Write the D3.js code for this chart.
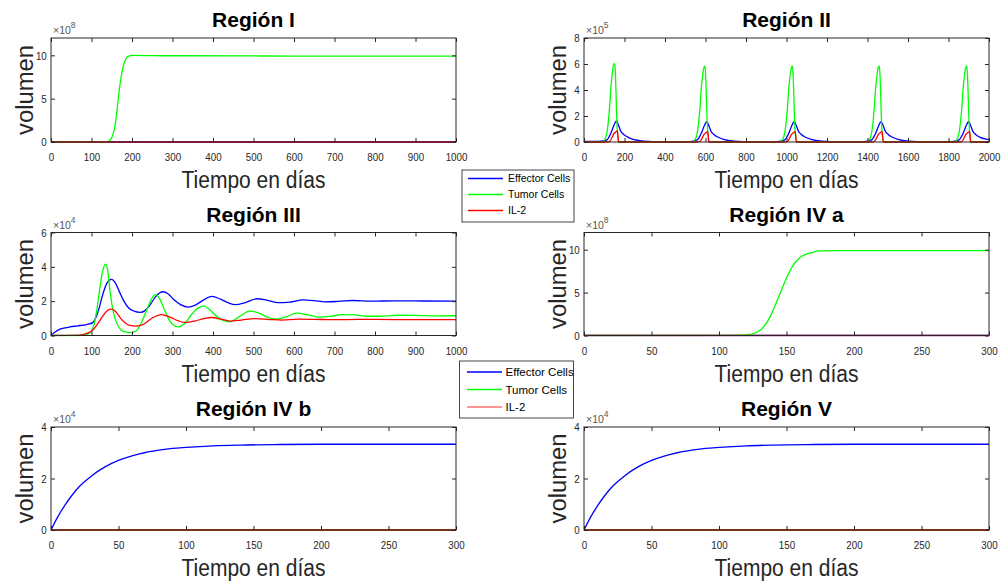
<!DOCTYPE html>
<html>
<head>
<meta charset="utf-8">
<script src="https://cdn.jsdelivr.net/npm/d3@7"></script>
<style>
  body { margin: 0; background: #fff; }
  text { font-family: Arial, "Liberation Sans", sans-serif; }
</style>
</head>
<body>
<svg id="chart" width="1004" height="585"></svg>
<script>
// series names shown in the legends
var seriesNames = ["Effector Cells", "Tumor Cells", "IL-2"];

// tick labels
var xTicks1000 = [0, 100, 200, 300, 400, 500, 600, 700, 800, 900, 1000];
var xTicks2000 = [0, 200, 400, 600, 800, 1000, 1200, 1400, 1600, 1800, 2000];
var xTicks300 = [0, 50, 100, 150, 200, 250, 300];
var yTicks12 = [0, 5, 10];
var yTicks8 = [0, 2, 4, 6, 8];
var yTicks6 = [0, 2, 4, 6];
var yTicks4 = [0, 2, 4];

// Región I  (values x 1e8), [día, volumen]
var r1Effector = [[0, 0], [1000, 0]];
var r1Tumor = [[0, 0], [100, 0.001], [130, 0.01], [140, 0.05], [150, 0.5], [155, 1.2], [160, 2.5],
  [165, 4.5], [170, 6.5], [175, 8.0], [180, 9.0], [185, 9.6], [190, 9.85], [200, 10.0],
  [300, 9.95], [600, 9.92], [1000, 9.9]];
var r1IL2 = [[0, 0], [1000, 0]];

// Región II (values x 1e5)
var r2Effector = [[0, 0.05], [70, 0.04], [101, 0.1], [116, 0.2], [132, 0.65], [148, 1.29], [156, 1.55],
  [161, 1.62], [166, 1.45], [174, 1.15], [181, 0.85], [195, 0.6], [214, 0.39], [247, 0.18], [296, 0.07],
  [380, 0.03], [520, 0.03],
  [547, 0.1], [562, 0.2], [578, 0.63], [594, 1.25], [602, 1.5], [607, 1.57], [612, 1.42], [620, 1.12],
  [627, 0.83], [641, 0.58], [660, 0.38], [693, 0.18], [742, 0.07], [830, 0.03], [950, 0.03],
  [979, 0.1], [994, 0.2], [1010, 0.63], [1026, 1.25], [1034, 1.5], [1039, 1.57], [1044, 1.42], [1052, 1.12],
  [1059, 0.83], [1073, 0.58], [1092, 0.38], [1125, 0.18], [1174, 0.07], [1260, 0.03], [1380, 0.03],
  [1408, 0.1], [1423, 0.2], [1439, 0.63], [1455, 1.25], [1463, 1.5], [1468, 1.57], [1473, 1.42], [1481, 1.12],
  [1488, 0.83], [1502, 0.58], [1521, 0.38], [1554, 0.18], [1603, 0.07], [1690, 0.03], [1810, 0.03],
  [1840, 0.1], [1855, 0.2], [1871, 0.63], [1887, 1.25], [1895, 1.5], [1900, 1.57], [1905, 1.42], [1913, 1.12],
  [1920, 0.83], [1934, 0.58], [1953, 0.38], [1986, 0.22], [2000, 0.19]];
var r2Tumor = [[0, 0], [60, 0], [91, 0.03], [102, 0.18], [109, 0.45], [115, 0.9], [121, 1.7], [127, 2.8],
  [132, 4.0], [139, 5.2], [145, 5.85], [151, 6.05], [155, 5.3], [158, 3.8], [161, 2.2], [164, 1.0],
  [167, 0.35], [171, 0.08], [179, 0], [530, 0],
  [537, 0.03], [548, 0.17], [555, 0.43], [561, 0.87], [567, 1.65], [573, 2.7], [578, 3.9], [585, 5.0],
  [591, 5.65], [597, 5.85], [601, 5.1], [604, 3.7], [607, 2.1], [610, 0.97], [613, 0.34], [617, 0.08], [625, 0],
  [962, 0],
  [969, 0.03], [980, 0.17], [987, 0.43], [993, 0.87], [999, 1.65], [1005, 2.7], [1010, 3.9], [1017, 5.0],
  [1023, 5.65], [1029, 5.85], [1033, 5.1], [1036, 3.7], [1039, 2.1], [1042, 0.97], [1045, 0.34], [1049, 0.08], [1057, 0],
  [1391, 0],
  [1398, 0.03], [1409, 0.17], [1416, 0.43], [1422, 0.87], [1428, 1.65], [1434, 2.7], [1439, 3.9], [1446, 5.0],
  [1452, 5.65], [1458, 5.85], [1462, 5.1], [1465, 3.7], [1468, 2.1], [1471, 0.97], [1474, 0.34], [1478, 0.08], [1486, 0],
  [1823, 0],
  [1830, 0.03], [1841, 0.17], [1848, 0.43], [1854, 0.87], [1860, 1.65], [1866, 2.7], [1871, 3.9], [1878, 5.0],
  [1884, 5.65], [1890, 5.85], [1894, 5.1], [1897, 3.7], [1900, 2.1], [1903, 0.97], [1906, 0.34], [1910, 0.08], [1918, 0],
  [2000, 0]];
var r2IL2 = [[0, 0], [110, 0], [126, 0.03], [140, 0.4], [146, 0.6], [156, 0.75], [165, 0.85], [168, 0.5], [170, 0.05], [173, 0],
  [556, 0], [572, 0.03], [586, 0.38], [592, 0.57], [602, 0.72], [611, 0.8], [614, 0.47], [616, 0.05], [619, 0],
  [988, 0], [1004, 0.03], [1018, 0.38], [1024, 0.57], [1034, 0.72], [1043, 0.8], [1046, 0.47], [1048, 0.05], [1051, 0],
  [1417, 0], [1433, 0.03], [1447, 0.38], [1453, 0.57], [1463, 0.72], [1472, 0.8], [1475, 0.47], [1477, 0.05], [1480, 0],
  [1849, 0], [1865, 0.03], [1879, 0.38], [1885, 0.57], [1895, 0.72], [1904, 0.8], [1907, 0.47], [1909, 0.05], [1912, 0],
  [2000, 0]];

// Región III (values x 1e4)
var r3Effector = [[0, 0], [10, 0.2], [22, 0.37], [35, 0.45], [47, 0.5], [65, 0.56], [88, 0.64], [103, 0.75],
  [112, 1.1], [120, 1.7], [128, 2.4], [136, 2.95], [143, 3.2], [150, 3.27], [158, 3.1], [168, 2.6], [180, 2.0],
  [192, 1.6], [205, 1.42], [220, 1.35], [232, 1.45], [245, 1.8], [258, 2.25], [268, 2.48], [277, 2.55],
  [288, 2.45], [303, 2.1], [320, 1.8], [339, 1.65], [355, 1.75], [375, 2.05], [397, 2.28], [420, 2.1],
  [440, 1.88], [455, 1.8], [480, 1.92], [508, 2.14], [535, 2.05], [561, 1.91], [590, 1.95], [623, 2.07],
  [650, 2.03], [677, 1.96], [710, 1.99], [745, 2.04], [790, 2.0], [850, 2.02], [920, 2.01], [1000, 2.0]];
var r3Tumor = [[0, 0], [60, 0], [80, 0.03], [90, 0.08], [100, 0.25], [107, 0.7], [113, 1.48], [121, 2.84],
  [128, 3.8], [135, 4.15], [140, 3.8], [146, 2.55], [152, 1.6], [158, 1.0], [166, 0.55], [174, 0.31],
  [186, 0.2], [199, 0.17], [212, 0.3], [225, 0.85], [240, 1.7], [250, 2.2], [259, 2.38], [268, 2.15],
  [280, 1.5], [292, 0.9], [303, 0.6], [314, 0.5], [328, 0.65], [348, 1.25], [364, 1.62], [378, 1.71],
  [392, 1.5], [410, 1.1], [425, 0.88], [442, 0.8], [465, 1.1], [491, 1.42], [512, 1.32], [535, 1.05],
  [557, 0.95], [580, 1.08], [607, 1.3], [635, 1.2], [664, 1.07], [690, 1.12], [720, 1.22], [750, 1.2],
  [785, 1.12], [820, 1.13], [860, 1.18], [900, 1.17], [950, 1.14], [1000, 1.15]];
var r3IL2 = [[0, 0], [70, 0.02], [85, 0.1], [100, 0.25], [110, 0.5], [120, 0.85], [130, 1.2], [140, 1.47],
  [150, 1.54], [160, 1.38], [172, 1.0], [185, 0.7], [197, 0.57], [207, 0.55], [225, 0.62], [250, 1.02],
  [273, 1.22], [295, 1.05], [315, 0.85], [331, 0.76], [355, 0.84], [380, 1.0], [397, 1.05], [420, 0.95],
  [442, 0.84], [470, 0.9], [504, 0.98], [540, 0.93], [570, 0.9], [610, 0.95], [650, 0.94], [700, 0.92],
  [760, 0.94], [850, 0.93], [1000, 0.93]];

// Región IV a (values x 1e8)
var r4aEffector = [[0, 0], [300, 0]];
var r4aTumor = [[0, 0], [100, 0.003], [110, 0.01], [115, 0.03], [120, 0.08], [125, 0.2], [130, 0.55],
  [135, 1.4], [140, 2.9], [145, 4.8], [150, 6.7], [155, 8.2], [160, 9.1], [165, 9.5], [170, 9.72],
  [175, 9.85], [185, 9.9], [300, 9.9]];
var r4aIL2 = [[0, 0], [300, 0]];

// Región IV b (values x 1e4)
var r4bEffector = [[0, 0], [5, 0.51], [10, 0.94], [15, 1.31], [20, 1.63], [25, 1.88], [30, 2.1], [40, 2.45],
  [50, 2.7], [60, 2.88], [70, 3.01], [80, 3.1], [90, 3.17], [100, 3.21], [120, 3.27], [140, 3.3],
  [170, 3.32], [200, 3.33], [300, 3.33]];
var r4bTumor = [[0, 0], [300, 0]];
var r4bIL2 = [[0, 0], [300, 0]];

// Región V (values x 1e4)
var r5Effector = [[0, 0], [5, 0.51], [10, 0.94], [15, 1.31], [20, 1.63], [25, 1.88], [30, 2.1], [40, 2.45],
  [50, 2.7], [60, 2.88], [70, 3.01], [80, 3.1], [90, 3.17], [100, 3.21], [120, 3.27], [140, 3.3],
  [170, 3.32], [200, 3.33], [300, 3.33]];
var r5Tumor = [[0, 0], [300, 0]];
var r5IL2 = [[0, 0], [300, 0]];

var colors = ["#0000ff", "#00ff00", "#ff0000"];
var ink = "#262626";
var plain = function(d) { return String(d); };

var svg = d3.select("#chart");

var panels = [
  { title: "Región I", left: 51, right: 456, top: 38, bottom: 142, xmax: 1000, xt: xTicks1000,
    ymax: 12, yt: yTicks12, exp: 8, series: [r1Effector, r1Tumor, r1IL2] },
  { title: "Región II", left: 584, right: 989, top: 38, bottom: 142, xmax: 2000, xt: xTicks2000,
    ymax: 8, yt: yTicks8, exp: 5, series: [r2Effector, r2Tumor, r2IL2] },
  { title: "Región III", left: 51, right: 456, top: 232.5, bottom: 335.5, xmax: 1000, xt: xTicks1000,
    ymax: 6, yt: yTicks6, exp: 4, series: [r3Effector, r3Tumor, r3IL2] },
  { title: "Región IV a", left: 584, right: 989, top: 232.5, bottom: 335.5, xmax: 300, xt: xTicks300,
    ymax: 12, yt: yTicks12, exp: 8, series: [r4aEffector, r4aTumor, r4aIL2] },
  { title: "Región IV b", left: 51, right: 456, top: 427, bottom: 530, xmax: 300, xt: xTicks300,
    ymax: 4, yt: yTicks4, exp: 4, series: [r4bEffector, r4bTumor, r4bIL2] },
  { title: "Región V", left: 584, right: 989, top: 427, bottom: 530, xmax: 300, xt: xTicks300,
    ymax: 4, yt: yTicks4, exp: 4, series: [r5Effector, r5Tumor, r5IL2] }
];

panels.forEach(function(p, i) {
  var x = d3.scaleLinear().domain([0, p.xmax]).range([p.left, p.right]);
  var y = d3.scaleLinear().domain([0, p.ymax]).range([p.bottom, p.top]);
  var g = svg.append("g");

  g.append("clipPath").attr("id", "clip" + i)
    .append("rect")
      .attr("x", p.left).attr("y", p.top - 1)
      .attr("width", p.right - p.left).attr("height", p.bottom - p.top + 2);

  var line = d3.line()
      .x(function(d) { return x(d[0]); })
      .y(function(d) { return y(d[1]); })
      .curve(d3.curveMonotoneX);

  g.append("g").attr("clip-path", "url(#clip" + i + ")")
    .selectAll("path")
    .data(p.series)
    .enter().append("path")
      .attr("d", line)
      .attr("fill", "none")
      .attr("stroke", function(d, k) { return colors[k]; })
      .attr("stroke-width", 1.3);

  // axes, ticks pointing inwards on all four sides
  var bottom = g.append("g")
      .attr("transform", "translate(0," + p.bottom + ")")
      .call(d3.axisBottom(x).tickValues(p.xt).tickFormat(plain)
        .tickSizeInner(-4).tickSizeOuter(0).tickPadding(11));
  g.append("g")
      .attr("transform", "translate(0," + p.top + ")")
      .call(d3.axisTop(x).tickValues(p.xt).tickSizeInner(-4).tickSizeOuter(0).tickFormat(""));
  g.append("g")
      .attr("transform", "translate(" + p.left + ",0)")
      .call(d3.axisLeft(y).tickValues(p.yt).tickFormat(plain)
        .tickSizeInner(-4).tickSizeOuter(0).tickPadding(5));
  g.append("g")
      .attr("transform", "translate(" + p.right + ",0)")
      .call(d3.axisRight(y).tickValues(p.yt).tickSizeInner(-4).tickSizeOuter(0).tickFormat(""));

  g.selectAll(".domain").remove();
  g.selectAll(".tick line").attr("stroke", ink);
  g.selectAll(".tick text")
      .attr("fill", ink)
      .attr("font-size", 11.5)
      .attr("font-family", "Arial, 'Liberation Sans', sans-serif")
      .attr("transform", "scale(0.85,1)");
  bottom.selectAll(".tick text").attr("y", 11).attr("dy", "0.71em");

  g.append("rect")
      .attr("x", p.left).attr("y", p.top)
      .attr("width", p.right - p.left).attr("height", p.bottom - p.top)
      .attr("fill", "none").attr("stroke", ink).attr("stroke-width", 1);

  // exponent
  var ex = g.append("text")
      .attr("x", p.left + 2).attr("y", p.top - 4)
      .attr("fill", "#555").attr("font-size", 10.5);
  ex.append("tspan").text("×10");
  ex.append("tspan").attr("dy", -6).attr("font-size", 8.5).text(p.exp);

  g.append("text")
      .attr("x", (p.left + p.right) / 2).attr("y", p.top - 11)
      .attr("text-anchor", "middle")
      .attr("font-weight", "bold").attr("font-size", 21)
      .attr("fill", "#000")
      .text(p.title);

  g.append("text")
      .attr("x", (p.left + p.right) / 2).attr("y", p.bottom + 46)
      .attr("text-anchor", "middle")
      .attr("font-size", 23).attr("fill", ink)
      .attr("textLength", 144).attr("lengthAdjust", "spacingAndGlyphs")
      .text("Tiempo en días");

  g.append("text")
      .attr("transform", "translate(" + (p.left - 18) + "," + ((p.top + p.bottom) / 2) + ") rotate(-90)")
      .attr("text-anchor", "middle")
      .attr("font-size", 23).attr("fill", ink)
      .attr("textLength", 90).attr("lengthAdjust", "spacingAndGlyphs")
      .text("volumen");
});

// legends
function legend(bx, by, bw, bh, lineX0, lineX1, textX, rows, fontSize, il2Color) {
  var lg = svg.append("g");
  lg.append("rect")
      .attr("x", bx).attr("y", by).attr("width", bw).attr("height", bh)
      .attr("fill", "#fff").attr("stroke", "#444").attr("stroke-width", 1);
  var item = lg.selectAll("g.item")
    .data(seriesNames)
    .enter().append("g").attr("class", "item")
      .attr("transform", function(d, k) { return "translate(0," + rows[k] + ")"; });
  item.append("line")
      .attr("x1", lineX0).attr("x2", lineX1)
      .attr("stroke", function(d, k) { return k === 2 ? il2Color : colors[k]; })
      .attr("stroke-width", 1.3);
  item.append("text")
      .attr("x", textX).attr("dy", "0.35em")
      .attr("font-size", fontSize).attr("fill", "#000")
      .text(function(d) { return d; });
}

legend(462, 170, 112, 52, 468, 503, 508, [178.5, 194.5, 210.5], 10.5, "#ff0000");
legend(459.5, 361, 114, 57, 467, 502, 505.5, [372, 389.5, 407], 11.5, "#ff7070");
</script>
</body>
</html>
